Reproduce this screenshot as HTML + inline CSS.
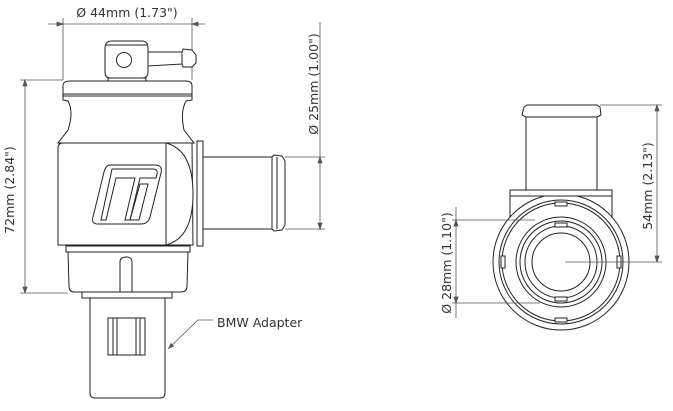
<!DOCTYPE html>
<html><head><style>
html,body{margin:0;padding:0;background:#fff;width:673px;height:411px;overflow:hidden}
text{font-family:"DejaVu Sans","Liberation Sans",sans-serif;fill:#333;font-size:12.5px}
</style></head><body>
<svg width="673" height="411" viewBox="0 0 673 411" xmlns="http://www.w3.org/2000/svg">
<defs>
<marker id="a" markerWidth="8" markerHeight="6" refX="8" refY="3" orient="auto"><path d="M0,0 L8,3 L0,6z" fill="#555"/></marker>
</defs>
<g fill="none" stroke="#555" stroke-width="0.8">
<line x1="48" y1="24" x2="205" y2="24"/>
<line x1="63" y1="18" x2="63" y2="80"/>
<line x1="192" y1="18" x2="192" y2="80"/>
<path d="M63,24 l-6,-2 v4z M192,24 l6,-2 v4z" fill="#555"/>
<line x1="25" y1="80" x2="25" y2="293"/>
<line x1="20" y1="80" x2="63" y2="80"/>
<line x1="20" y1="293" x2="68" y2="293"/>
<path d="M25,80 l-2,6 h4z M25,293 l-2,-6 h4z" fill="#555"/>
<line x1="320" y1="22" x2="320" y2="230"/>
<line x1="285" y1="157" x2="325" y2="157"/>
<line x1="285" y1="229" x2="325" y2="229"/>
<path d="M320,157 l-2,6 h4z M320,229 l-2,-6 h4z" fill="#555"/>
<polyline points="213,320 198,320 168,349" marker-end="url(#a)"/>
</g>
<g fill="#fff" stroke="#222" stroke-width="1">
<path d="M148,52 L182,52 L183,49 L192,50 L196,55 L196,63 L192,67 L183,67 L182,64 L148,66z"/>
<line x1="182" y1="52" x2="182" y2="64"/>
<path d="M105,48 Q105,41 112,41 L142,41 Q148,41 148,48 L148,72 Q148,78 142,78 L110,78 Q105,78 105,72z"/>
<line x1="106" y1="45" x2="147" y2="45"/>
<circle cx="124" cy="60" r="7.5"/>
<rect x="108" y="78" width="38" height="4"/>
<rect x="197" y="141" width="6" height="105"/>
<path d="M203,157 L272,157 L274,155 L282,156 L285,161 L285,225 L282,230 L274,231 L272,229 L203,229z"/>
<line x1="272" y1="157" x2="272" y2="229"/>
<line x1="277" y1="157" x2="277" y2="229"/>
<path d="M63,86 Q63,81 70,81 L186,81 Q192,81 192,86 L192,100 L186,101 Q180,112 184,130 L194,143 L58,143 L68,130 Q74,112 68,101 L63,100z"/>
<line x1="63" y1="94" x2="192" y2="94"/>
<line x1="63" y1="96" x2="192" y2="96"/>
<path d="M58,148 Q58,143 63,143 L192,143 L193,245 L58,245z"/>
<path d="M166,143 Q193,150 193,194 Q193,238 166,245" />
<line x1="166" y1="143" x2="166" y2="245"/>
<path d="M110,165 L155,165 Q163,165 161,173 L150,217 Q148,224 141,224 L98,224 Q91,224 93,217 L104,172 Q106,165 110,165z"/>
<path d="M112,169 L153,169 Q158,169 157,174 L156,178 L140,178 L130,220 L125,220 L135,178 L116,178 L106,220 L101,220 L112,169z"/>
<path d="M140,184 L148,184 L139,220 L130,220z" fill="none"/>
<rect x="66" y="246" width="124" height="6"/>
<path d="M68,252 L188,252 L187,286 Q187,292 181,292 L74,292 Q69,292 69,286z"/>
<path d="M120,292 L120,262 Q120,257 126,257 Q132,257 132,262 L132,292"/>
<rect x="82" y="292" width="90" height="6"/>
<path d="M90,298 L165,298 L165,393 Q165,398 160,398 L95,398 Q90,398 90,393z"/>
<rect x="108" y="318" width="37" height="37"/>
<line x1="113" y1="318" x2="113" y2="355"/><line x1="117" y1="318" x2="117" y2="355"/>
<line x1="136" y1="318" x2="136" y2="355"/><line x1="140" y1="318" x2="140" y2="355"/>
</g>
<g fill="#fff" stroke="#222" stroke-width="1">
<rect x="510" y="196" width="102" height="30" stroke="none"/>
<circle cx="561" cy="262" r="68"/>
<line x1="510" y1="196" x2="510" y2="218"/>
<line x1="612" y1="196" x2="612" y2="218"/>
<rect x="510" y="190" width="102" height="6"/>
<path d="M526,190 L526,117 L522,115 L524,107 L527,105 L597,105 L600,107 L601,115 L597,117 L597,190z"/>
<line x1="526" y1="117" x2="597" y2="117"/>
<circle cx="561" cy="262" r="62"/>
<circle cx="561" cy="262" r="59"/>
<circle cx="561" cy="262" r="45"/>
<circle cx="561" cy="262" r="41"/>
<circle cx="561" cy="262" r="36"/>
<circle cx="561" cy="262" r="29"/>
<rect x="555" y="202" width="12" height="4"/><rect x="555" y="318" width="12" height="4"/>
<rect x="501" y="256" width="4" height="12"/><rect x="617" y="256" width="4" height="12"/>
<rect x="555" y="223" width="12" height="4"/><rect x="555" y="297" width="12" height="4"/>
</g>
<g fill="none" stroke="#555" stroke-width="0.8">
<line x1="657" y1="105" x2="657" y2="262"/>
<line x1="600" y1="105" x2="662" y2="105"/>
<line x1="565" y1="262" x2="662" y2="262"/>
<path d="M657,105 l-2,6 h4z M657,262 l-2,-6 h4z" fill="#555"/>
<line x1="456" y1="207" x2="456" y2="318"/>
<line x1="452" y1="220" x2="535" y2="220"/>
<line x1="452" y1="303" x2="540" y2="303"/>
<path d="M456,220 l-2,6 h4z M456,303 l-2,-6 h4z" fill="#555"/>
</g>
<text x="127" y="17" text-anchor="middle">Ø 44mm (1.73")</text>
<text transform="translate(14,190) rotate(-90)" text-anchor="middle">72mm (2.84")</text>
<text transform="translate(318,84) rotate(-90)" text-anchor="middle">Ø 25mm (1.00")</text>
<text x="217" y="327">BMW Adapter</text>
<text transform="translate(652,186) rotate(-90)" text-anchor="middle">54mm (2.13")</text>
<text transform="translate(451,263) rotate(-90)" text-anchor="middle">Ø 28mm (1.10")</text>
</svg>
</body></html>
